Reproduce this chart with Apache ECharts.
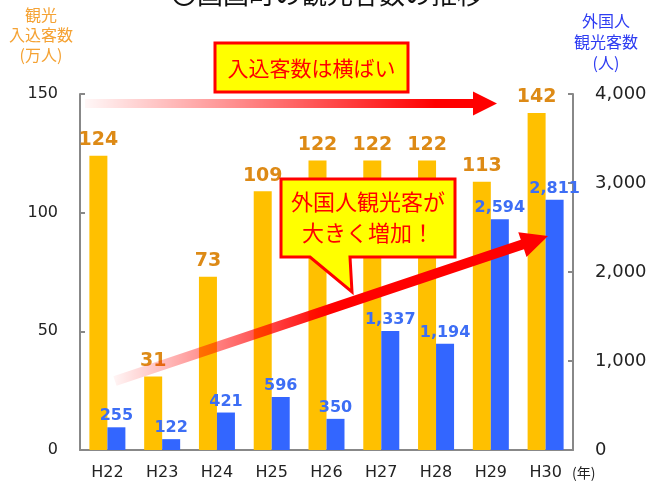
<!DOCTYPE html>
<html>
<head>
<meta charset="utf-8">
<script src="https://cdn.jsdelivr.net/npm/echarts@6/dist/echarts.min.js"></script>
<style>
html,body{margin:0;padding:0;background:#fff;}
#c{width:654px;height:485px;}
</style>
</head>
<body>
<div id="c"></div>
<script>
const categories = ['H22','H23','H24','H25','H26','H27','H28','H29','H30'];
const visitors = [124, 31, 73, 109, 122, 122, 122, 113, 142];          // 入込客数 (万人)
const foreignVisitors = [255, 122, 421, 596, 350, 1337, 1194, 2594, 2811]; // 外国人観光客数 (人)
const leftTicks = [0, 50, 100, 150];
const rightTicks = [0, 1000, 2000, 3000, 4000];

const JP = '"Noto Sans CJK JP", sans-serif';
const NUM = '"DejaVu Sans", Verdana, sans-serif';

function arrowPoints(x1, y1, x2, y2, sw, hw, hl) {
  const dx = x2 - x1, dy = y2 - y1, L = Math.hypot(dx, dy);
  const ux = dx / L, uy = dy / L, nx = -uy, ny = ux;
  const bx = x2 - ux * hl, by = y2 - uy * hl;
  return [
    [x1 + nx * sw / 2, y1 + ny * sw / 2],
    [bx + nx * sw / 2, by + ny * sw / 2],
    [bx + nx * hw / 2, by + ny * hw / 2],
    [x2, y2],
    [bx - nx * hw / 2, by - ny * hw / 2],
    [bx - nx * sw / 2, by - ny * sw / 2],
    [x1 - nx * sw / 2, y1 - ny * sw / 2]
  ];
}

const chart = echarts.init(document.getElementById('c'), null, {renderer: 'canvas'});
const fmt = v => Number(v).toLocaleString('en-US');

chart.setOption({
  animation: false,
  backgroundColor: '#ffffff',
  grid: {left: 80, right: 81, top: 94, bottom: 35},
  xAxis: {
    type: 'category',
    data: categories,
    axisLine: {lineStyle: {color: '#888888', width: 2}},
    axisTick: {inside: true, length: 5, lineStyle: {color: '#888888', width: 2}},
    axisLabel: {color: '#222222', fontFamily: NUM, fontSize: 16, margin: 15}
  },
  yAxis: [
    {
      type: 'value', min: leftTicks[0], max: leftTicks[leftTicks.length - 1], interval: 50,
      axisLine: {show: true, lineStyle: {color: '#888888', width: 2}},
      axisTick: {show: true, inside: true, length: 5, lineStyle: {color: '#888888', width: 2}},
      splitLine: {show: false},
      axisLabel: {color: '#222222', fontFamily: NUM, fontSize: 16, margin: 22}
    },
    {
      type: 'value', min: rightTicks[0], max: rightTicks[rightTicks.length - 1], interval: 1000,
      position: 'right',
      axisLine: {show: true, lineStyle: {color: '#888888', width: 2}},
      axisTick: {show: true, inside: true, length: 5, lineStyle: {color: '#888888', width: 2}},
      splitLine: {show: false},
      axisLabel: {color: '#222222', fontFamily: NUM, fontSize: 18, margin: 22, formatter: v => fmt(v)}
    }
  ],
  series: [
    {
      name: '観光入込客数', type: 'bar', data: visitors, yAxisIndex: 0,
      barWidth: 18, barGap: '0%',
      itemStyle: {color: '#ffc000'},
      label: {show: true, position: 'top', distance: 6, color: '#dd8a16',
              fontFamily: NUM, fontWeight: 'bold', fontSize: 19}
    },
    {
      name: '外国人観光客数', type: 'bar', data: foreignVisitors, yAxisIndex: 1,
      barWidth: 18,
      itemStyle: {color: '#3366ff'},
      label: {show: true, position: 'top', distance: 3, color: '#3d6ef5',
              fontFamily: NUM, fontWeight: 'bold', fontSize: 16, formatter: p => fmt(p.value)}
    }
  ],
  graphic: [
    {type: 'text', left: 'center', top: -19, z: 100,
     style: {text: '〇国国町の観光客数の推移', font: '26px ' + JP, fill: '#111'}},
    {type: 'text', x: 41, y: 5, z: 100,
     style: {text: '観光\n入込客数\n(万人)', font: '16px ' + JP, fill: '#f5a233', align: 'center', verticalAlign: 'top', lineHeight: 20}},
    {type: 'text', x: 606, y: 10, z: 100,
     style: {text: '外国人\n観光客数\n(人)', font: '16px ' + JP, fill: '#2e3cf2', align: 'center', verticalAlign: 'top', lineHeight: 21}},
    {type: 'text', x: 572, y: 466, z: 100,
     style: {text: '(年)', font: '14px ' + JP, fill: '#222'}},
    // arrow 1
    {type: 'polygon', z: 90,
     shape: {points: arrowPoints(85, 103.5, 497, 103.5, 9, 24, 24)},
     style: {fill: new echarts.graphic.LinearGradient(0, 0, 1, 0, [
        {offset: 0, color: 'rgba(255,0,0,0.03)'},
        {offset: 0.85, color: 'rgba(255,0,0,1)'},
        {offset: 1, color: 'rgba(255,0,0,1)'}])}},
    // box 1
    {type: 'rect', z: 95, shape: {x: 215, y: 43, width: 193, height: 49},
     style: {fill: '#ffff00', stroke: '#ff0000', lineWidth: 3}},
    {type: 'text', x: 311.5, y: 68, z: 96,
     style: {text: '入込客数は横ばい', font: '21px ' + JP, fill: '#ff0000', align: 'center', verticalAlign: 'middle'}},
    // arrow 2
    {type: 'polygon', z: 90,
     shape: {points: arrowPoints(115, 381, 548, 236, 10, 26, 27)},
     style: {fill: new echarts.graphic.LinearGradient(0, 0, 1, 0, [
        {offset: 0, color: 'rgba(255,0,0,0.04)'},
        {offset: 0.5, color: 'rgba(255,0,0,1)'},
        {offset: 1, color: 'rgba(255,0,0,1)'}])}},
    // callout 2
    {type: 'polygon', z: 95,
     shape: {points: [[281,179],[455,179],[455,257],[350,257],[352,292],[310,257],[281,257]]},
     style: {fill: '#ffff00', stroke: '#ff0000', lineWidth: 3, lineJoin: 'miter'}},
    {type: 'text', x: 368, y: 202, z: 96,
     style: {text: '外国人観光客が', font: '22px ' + JP, fill: '#ff0000', align: 'center', verticalAlign: 'middle'}},
    {type: 'text', x: 368, y: 233, z: 96,
     style: {text: '大きく増加！', font: '22px ' + JP, fill: '#ff0000', align: 'center', verticalAlign: 'middle'}}
  ]
});
</script>
</body>
</html>
